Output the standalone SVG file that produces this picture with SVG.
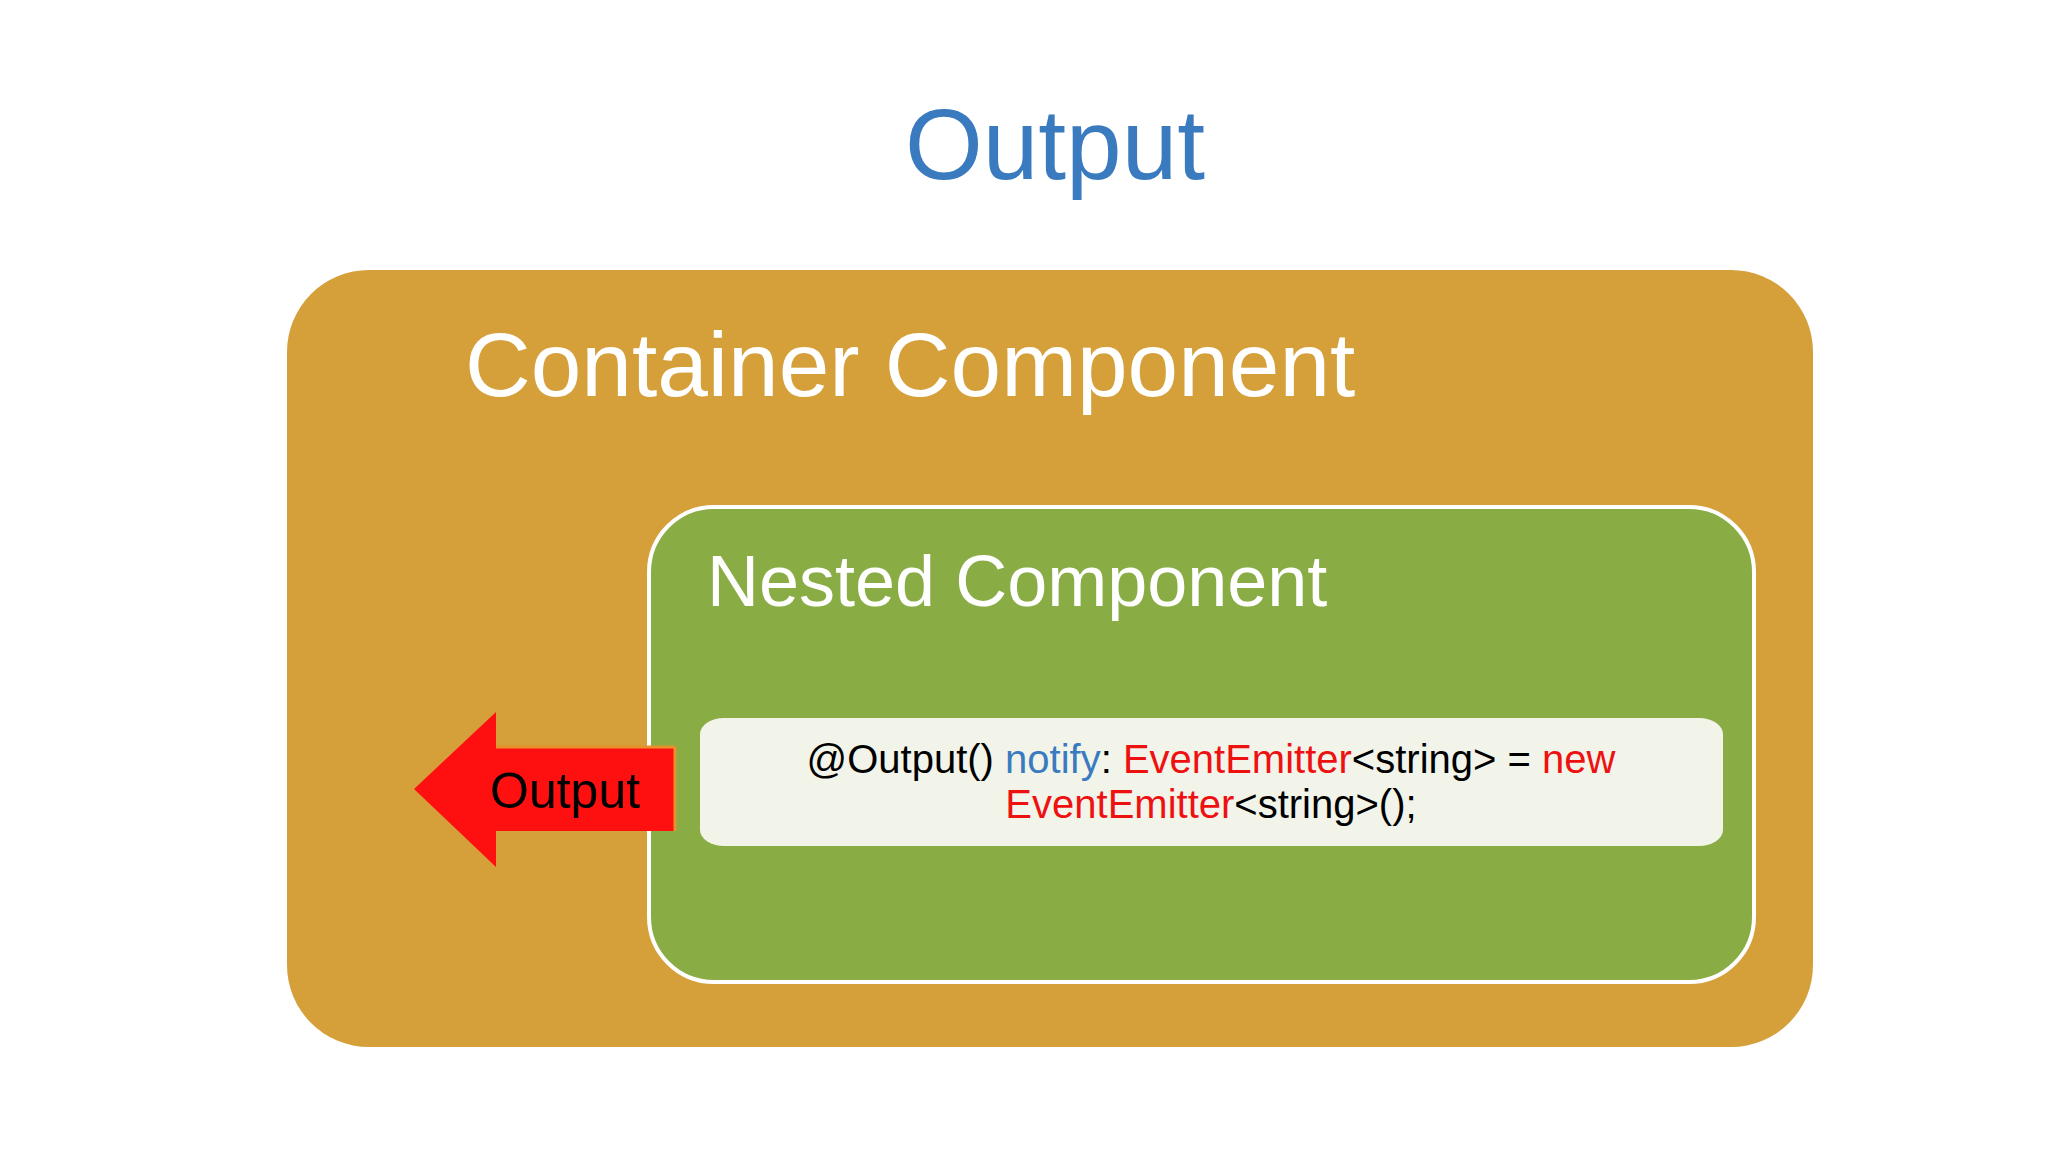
<svg xmlns="http://www.w3.org/2000/svg" width="2048" height="1152" viewBox="0 0 2048 1152">
<style>
text{font-family:"Liberation Sans",Arial,sans-serif}
.w{fill:#fff}
.r{fill:#EE1111}
.b{fill:#3A7BBF}
</style>
<rect width="2048" height="1152" fill="#fff"/>
<text x="1055" y="179" font-size="100" text-anchor="middle" class="b">Output</text>
<g id="container">
<rect x="287" y="270" width="1526" height="777" rx="82" fill="#D59F3A"/>
<text x="465" y="396" font-size="91" class="w">Container Component</text>
</g>
<g id="nested">
<rect x="649" y="507" width="1105" height="475" rx="65" fill="#8AAC45" stroke="#fff" stroke-width="4"/>
<text x="707" y="606" font-size="72" class="w">Nested Component</text>
</g>
<g id="code">
<rect x="700" y="718" width="1023" height="128" rx="24" ry="16" fill="#F2F4EA"/>
<text x="1211" y="773" font-size="40" text-anchor="middle" fill="#000">@Output() <tspan class="b">notify</tspan>: <tspan class="r">EventEmitter</tspan>&lt;string&gt; = <tspan class="r">new</tspan></text>
<text x="1211" y="818" font-size="40" text-anchor="middle" fill="#000"><tspan class="r">EventEmitter</tspan>&lt;string&gt;();</text>
</g>
<g id="connectors">
<g id="output-arrow">
<polygon points="414,789 496,712 496,747 675,747 675,831 496,831 496,867" fill="#FF1010"/>
<line x1="675" y1="747" x2="675" y2="831" stroke="#E8902A" stroke-width="3"/>
<line x1="496" y1="747" x2="675" y2="747" stroke="#E8902A" stroke-width="3"/>
<text x="490" y="808" font-size="50" fill="#000">Output</text>
</g>
</g>
</svg>
